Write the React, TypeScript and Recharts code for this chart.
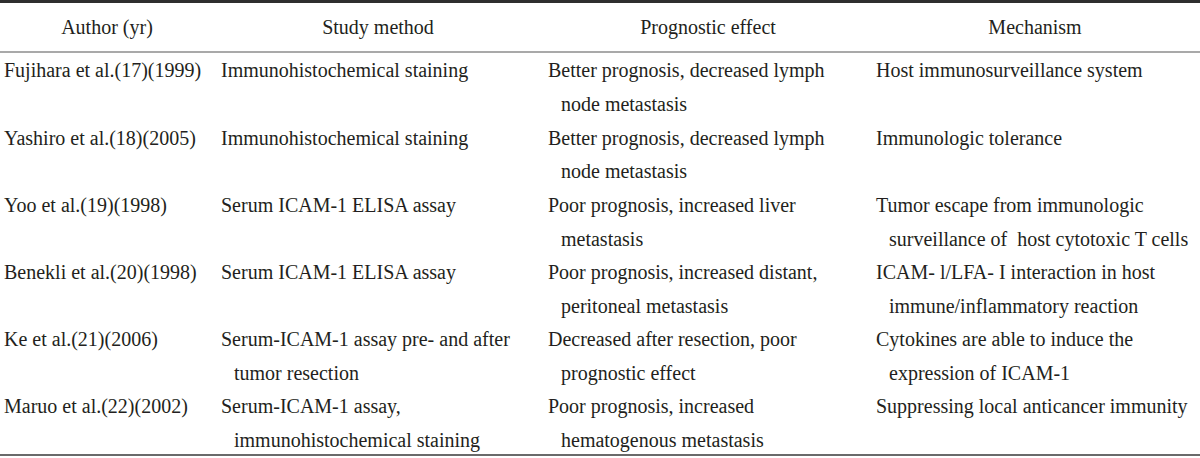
import React from 'react';
import { ComposedChart, Scatter, XAxis, YAxis, ReferenceLine } from 'recharts';

// ---- table content ----
const headers = ['Author (yr)', 'Study method', 'Prognostic effect', 'Mechanism'];

const authors = [
  'Fujihara et al.(17)(1999)',
  'Yashiro et al.(18)(2005)',
  'Yoo et al.(19)(1998)',
  'Benekli et al.(20)(1998)',
  'Ke et al.(21)(2006)',
  'Maruo et al.(22)(2002)',
];

const studyMethods = [
  ['Immunohistochemical staining'],
  ['Immunohistochemical staining'],
  ['Serum ICAM-1 ELISA assay'],
  ['Serum ICAM-1 ELISA assay'],
  ['Serum-ICAM-1 assay pre- and after', 'tumor resection'],
  ['Serum-ICAM-1 assay,', 'immunohistochemical staining'],
];

const prognosticEffects = [
  ['Better prognosis, decreased lymph', 'node metastasis'],
  ['Better prognosis, decreased lymph', 'node metastasis'],
  ['Poor prognosis, increased liver', 'metastasis'],
  ['Poor prognosis, increased distant,', 'peritoneal metastasis'],
  ['Decreased after resection, poor', 'prognostic effect'],
  ['Poor prognosis, increased', 'hematogenous metastasis'],
];

const mechanisms = [
  ['Host immunosurveillance system'],
  ['Immunologic tolerance'],
  ['Tumor escape from immunologic', 'surveillance of  host cytotoxic T cells'],
  ['ICAM- l/LFA- I interaction in host', 'immune/inflammatory reaction'],
  ['Cytokines are able to induce the', 'expression of ICAM-1'],
  ['Suppressing local anticancer immunity'],
];

// ---- layout constants (not data) ----
const W = 1200;
const H = 458;
const COL_LEFT = [4, 221, 548, 876];
const COL_CENTER = [107, 378, 708, 1035];
const HEADER_TOP = -0.774; // header band above first row (row units)
const BOTTOM = 6.045;
const TOP_RULE = -0.752;
const FONT = "'Liberation Serif', 'DejaVu Serif', serif";
const FONT_SIZE = 20;
const TEXT_COLOR = '#231f20';
const FIRST_BASELINE = 25.5;
const LINE_GAP = 33.7;
const INDENT = 13;
const HEADER_BASELINE = 34;

const columns = [
  authors.map((a) => [a]),
  studyMethods,
  prognosticEffects,
  mechanisms,
];

const bodyCells = columns.flatMap((col, c) =>
  col.map((lines, r) => ({ x: COL_LEFT[c], y: r, lines }))
);

const headerCells = headers.map((h, c) => ({ x: COL_CENTER[c], y: HEADER_TOP, lines: [h] }));

const BodyCell = (props: any) => {
  const { cx, cy, payload } = props;
  return (
    <g>
      {payload.lines.map((t: string, i: number) => (
        <text
          key={i}
          x={cx + (i > 0 ? INDENT : 0)}
          y={cy + FIRST_BASELINE + i * LINE_GAP}
          fontFamily={FONT}
          fontSize={FONT_SIZE}
          fill={TEXT_COLOR}
          style={{ whiteSpace: 'pre' }}
        >
          {t}
        </text>
      ))}
    </g>
  );
};

const HeaderCell = (props: any) => {
  const { cx, cy, payload } = props;
  return (
    <text
      x={cx}
      y={cy + HEADER_BASELINE}
      textAnchor="middle"
      fontFamily={FONT}
      fontSize={FONT_SIZE}
      fill={TEXT_COLOR}
    >
      {payload.lines[0]}
    </text>
  );
};

export default function App() {
  return (
    <div style={{ position: 'absolute', left: 0, top: 0, width: W, height: H, background: '#fff' }}>
      <ComposedChart width={W} height={H} margin={{ top: 0, right: 0, bottom: 0, left: 0 }}>
        <XAxis dataKey="x" type="number" domain={[0, W]} hide allowDataOverflow />
        <YAxis dataKey="y" type="number" domain={[HEADER_TOP, BOTTOM]} reversed hide allowDataOverflow />
        <ReferenceLine y={TOP_RULE} stroke="#2e2e2e" strokeWidth={3} ifOverflow="visible" />
        <ReferenceLine y={0} stroke="#555555" strokeWidth={1.2} ifOverflow="visible" />
        <ReferenceLine y={6} stroke="#6a6a6a" strokeWidth={2} ifOverflow="visible" />
        <Scatter data={headerCells} dataKey="y" shape={HeaderCell} isAnimationActive={false} />
        <Scatter data={bodyCells} dataKey="y" shape={BodyCell} isAnimationActive={false} />
      </ComposedChart>
    </div>
  );
}
